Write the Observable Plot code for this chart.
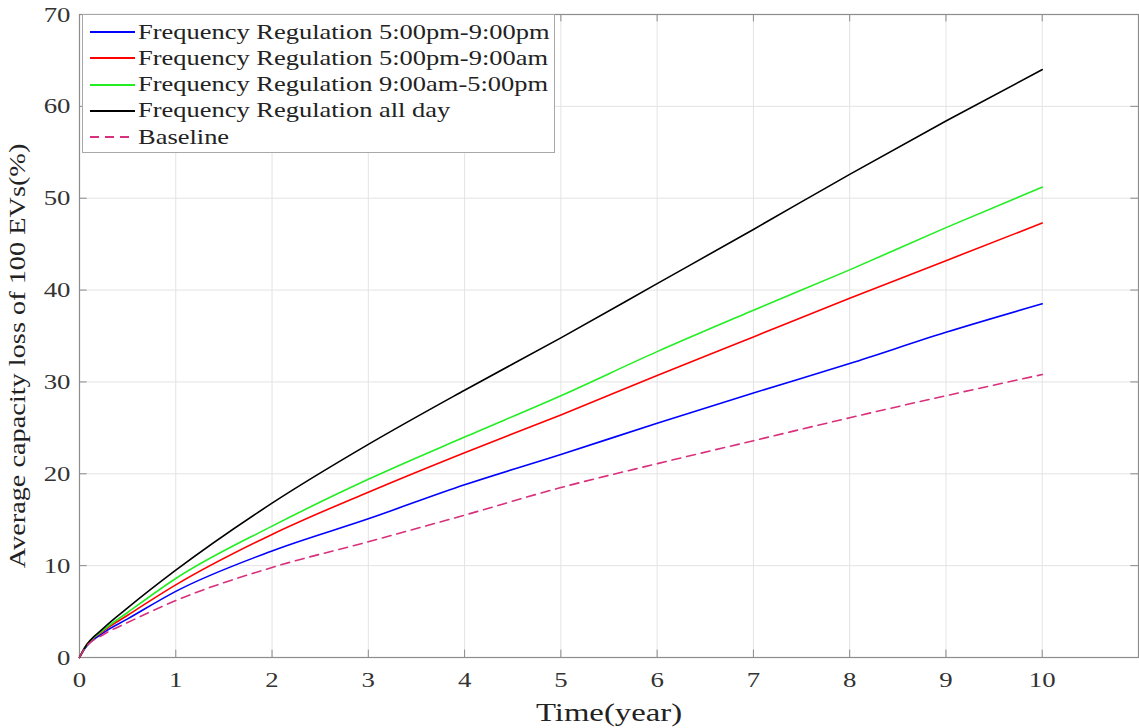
<!DOCTYPE html>
<html>
<head>
<meta charset="utf-8">
<script src="https://cdn.jsdelivr.net/npm/d3@7"></script>
<script src="https://cdn.jsdelivr.net/npm/@observablehq/plot@0.6"></script>
<style>
  html, body { margin: 0; padding: 0; background: #fff; }
  #wrap { position: relative; width: 1139px; height: 728px; font-family: "Liberation Serif", "DejaVu Serif", serif; }
  #legend { position: absolute; left: 82px; top: 14px; width: 473px; height: 139px; background: #fff; border: 1px solid #a8a8a8; box-sizing: border-box; }
  .row { position: absolute; left: 0; height: 26px; display: flex; align-items: center; font-size: 21px; color: #222; white-space: nowrap; }
  .row svg { margin-left: 7px; margin-right: 3px; }
  .row span { display: inline-block; transform: scaleX(1.26); transform-origin: left center; }
</style>
</head>
<body>
<div id="wrap"></div>
<script>
const years = [0, 0.05, 0.25, 0.5, 1, 2, 3, 4, 5, 6, 7, 8, 9, 10];
const fr5pm9pm = [0, 0.9, 2.7, 4.2, 7.2, 11.6, 15.1, 18.8, 22.1, 25.5, 28.8, 32.0, 35.4, 38.5];
const fr5pm9am = [0, 1.0, 2.9, 4.6, 7.9, 13.4, 18.0, 22.3, 26.4, 30.7, 34.9, 39.1, 43.2, 47.3];
const fr9am5pm = [0, 1.0, 3.0, 4.9, 8.6, 14.3, 19.4, 24.0, 28.5, 33.3, 37.8, 42.2, 46.8, 51.2];
const frAllDay = [0, 1.0, 3.2, 5.4, 9.5, 16.8, 23.2, 29.1, 34.8, 40.7, 46.6, 52.6, 58.4, 64.0];
const baseline = [0, 0.9, 2.5, 3.8, 6.2, 9.8, 12.6, 15.5, 18.5, 21.1, 23.6, 26.1, 28.5, 30.8];

const seriesNames = [
  "Frequency Regulation 5:00pm-9:00pm",
  "Frequency Regulation 5:00pm-9:00am",
  "Frequency Regulation 9:00am-5:00pm",
  "Frequency Regulation all day",
  "Baseline"
];
const seriesValues = [fr5pm9pm, fr5pm9am, fr9am5pm, frAllDay, baseline];
const seriesColors = ["#0000ff", "#ff0000", "#22ee22", "#000000", "#d8307c"];
const seriesDash = [null, null, null, null, "9,6"];

const xTicks = [0, 1, 2, 3, 4, 5, 6, 7, 8, 9, 10];
const yTicks = [0, 10, 20, 30, 40, 50, 60, 70];
const xLabel = "Time(year)";
const yLabel = "Average capacity loss of 100 EVs(%)";

const series = seriesNames.map((name, i) => ({
  name, color: seriesColors[i], dash: seriesDash[i],
  data: years.map((x, j) => ({x, y: seriesValues[i][j]}))
}));

const font = "Liberation Serif, DejaVu Serif, serif";
const gridColor = "#e3e3e3";
const boxColor = "#8c8c8c";

const chart = Plot.plot({
  width: 1139,
  height: 728,
  marginTop: 14,
  marginBottom: 71,
  marginLeft: 79,
  marginRight: 1,
  style: { fontFamily: font, background: "#fff", color: "#333" },
  x: { domain: [0, 11] },
  y: { domain: [0, 70] },
  marks: [
    Plot.gridX(xTicks.filter(t => t > 0), { stroke: gridColor, strokeOpacity: 1 }),
    Plot.gridY(yTicks.filter(t => t > 0 && t < 70), { stroke: gridColor, strokeOpacity: 1 }),
    Plot.frame({ stroke: boxColor, strokeWidth: 1.2 }),
    // inward tick marks (MATLAB style)
    Plot.ruleX(xTicks, { y1: 0, y2: 0.8, stroke: boxColor }),
    Plot.ruleX(xTicks, { y1: 69.2, y2: 70, stroke: boxColor }),
    Plot.ruleY(yTicks, { x1: 0, x2: 0.08, stroke: boxColor }),
    Plot.ruleY(yTicks, { x1: 10.92, x2: 11, stroke: boxColor }),
    Plot.axisX({ ticks: xTicks, tickSize: 0, tickPadding: 14, fontSize: 22, label: null, fill: "#333" }),
    Plot.axisY({ ticks: yTicks, tickSize: 0, tickPadding: 9, fontSize: 22, label: null, fill: "#333" }),
    Plot.axisX({ ticks: [], tickSize: 0, label: xLabel, labelAnchor: "center", labelArrow: "none", labelOffset: 63, fontSize: 26, fill: "#222" }),
    Plot.axisY({ ticks: [], tickSize: 0, label: yLabel, labelAnchor: "center", labelArrow: "none", labelOffset: 72, fontSize: 24, fill: "#222" }),
    ...series.map(s => Plot.line(s.data, {
      x: "x", y: "y", stroke: s.color, strokeWidth: 1.6,
      strokeDasharray: s.dash || undefined, curve: "monotone-x"
    }))
  ]
});

// the reference image is horizontally stretched: widen the text glyphs
function stretch(sel, sx, sy) {
  d3.select(chart).selectAll(sel).each(function() {
    const t = d3.select(this);
    const tr = t.attr("transform") || "";
    t.attr("transform", tr + ` scale(${sx},${sy})`);
  });
}
stretch('g[aria-label="x-axis tick label"] text', 1.22, 1);
stretch('g[aria-label="y-axis tick label"] text', 1.22, 1);
stretch('g[aria-label="x-axis label"] text', 1.26, 1);
stretch('g[aria-label="y-axis label"] text', 1.18, 1);
// shift the y label slightly downward like the reference
d3.select(chart).selectAll('g[aria-label="y-axis label"]').attr("transform", function() {
  return (d3.select(this).attr("transform") || "") + " translate(0,20)";
});

const wrap = document.getElementById("wrap");
wrap.appendChild(chart);

const legend = document.createElement("div");
legend.id = "legend";
series.forEach((s, i) => {
  const row = document.createElement("div");
  row.className = "row";
  row.style.top = (4 + i * 26.3) + "px";
  const ns = "http://www.w3.org/2000/svg";
  const svg = document.createElementNS(ns, "svg");
  svg.setAttribute("width", 45); svg.setAttribute("height", 10);
  const ln = document.createElementNS(ns, "line");
  ln.setAttribute("x1", 0); ln.setAttribute("x2", 45);
  ln.setAttribute("y1", 5); ln.setAttribute("y2", 5);
  ln.setAttribute("stroke", s.color); ln.setAttribute("stroke-width", 2);
  if (s.dash) ln.setAttribute("stroke-dasharray", "9,6");
  svg.appendChild(ln);
  row.appendChild(svg);
  const t = document.createElement("span");
  t.textContent = s.name;
  row.appendChild(t);
  legend.appendChild(row);
});
wrap.appendChild(legend);
</script>
</body>
</html>
